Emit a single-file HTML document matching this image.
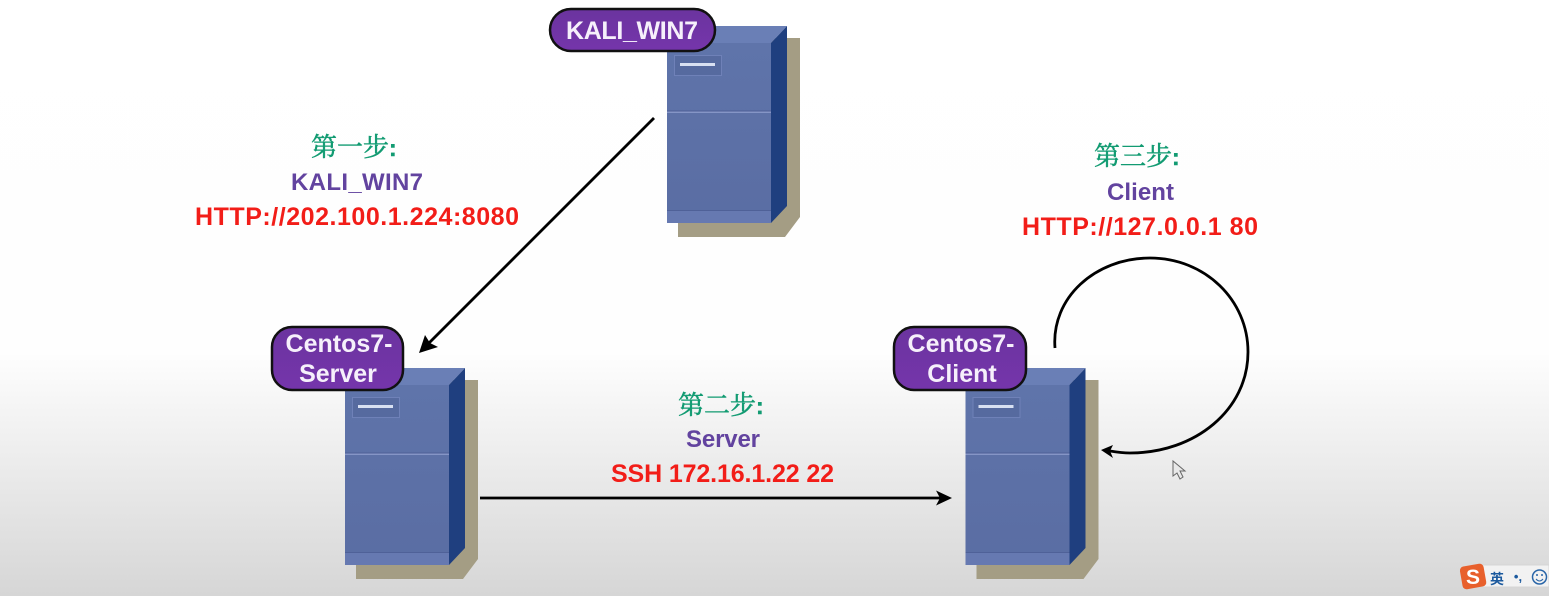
<!DOCTYPE html>
<html><head><meta charset="utf-8"><style>
html,body{margin:0;padding:0;background:#fff}
svg{display:block;filter:blur(.35px)}
text{font-family:"Liberation Sans","Noto Sans CJK SC",sans-serif;font-weight:bold}
.g{font-family:"Liberation Serif","Noto Serif CJK SC",serif;fill:#129b72;font-size:26px;font-weight:normal;stroke:#129b72;stroke-width:.5}
.c{font-weight:bold;font-family:"Liberation Sans",sans-serif;font-size:23px}
.p{fill:#62439f;font-size:24px}
.r{fill:#f21d18;font-size:25px}
.w{fill:#f6f0fb;font-size:25px;text-anchor:middle}
</style></head><body>
<svg width="1549" height="596" viewBox="0 0 1549 596" xmlns="http://www.w3.org/2000/svg">
<defs>
<linearGradient id="bg" x1="0" y1="0" x2="0" y2="1"><stop offset="0" stop-color="#fff"/><stop offset=".59" stop-color="#fefefe"/><stop offset="1" stop-color="#d6d6d6"/></linearGradient>
<linearGradient id="tag" x1="0" y1="0" x2="0" y2="1"><stop offset="0" stop-color="#6b349f"/><stop offset="1" stop-color="#7535ab"/></linearGradient>
<linearGradient id="fr" x1="0" y1="0" x2="0" y2="1"><stop offset="0" stop-color="#5f74aa"/><stop offset="1" stop-color="#5a6da3"/></linearGradient>
<g id="srv">
<path d="M678 38H800V217L785 237H678Z" fill="#a49d84"/>
<path d="M667 43L683 26H787L771 43Z" fill="#6a7fb6"/>
<path d="M771 43L787 26V206L771 223Z" fill="#1f3f7f"/>
<rect x="667" y="43" width="104" height="180" fill="url(#fr)"/>
<rect x="667" y="110.5" width="104" height="1" fill="#4e6097"/>
<rect x="667" y="111.5" width="104" height="1.5" fill="#8595c6"/>
<rect x="667" y="210" width="104" height="1" fill="#4f6198"/>
<rect x="667" y="211" width="104" height="12" fill="#6679b1"/>
<rect x="674.5" y="55.5" width="47" height="20" fill="#566a9f" stroke="#6f81b8"/>
<rect x="680" y="63" width="35" height="3" fill="#d8e0f2"/>
</g>
</defs>
<rect width="1549" height="596" fill="url(#bg)"/>
<use href="#srv"/>
<use href="#srv" x="-322" y="342"/>
<use href="#srv" x="298.5" y="342"/>

<path d="M654 118L428 344" stroke="#000" stroke-width="2.8" fill="none"/>
<path d="M419 353L425 335L430 343L438 347Z" fill="#000"/>
<path d="M480 498H942" stroke="#000" stroke-width="2.8" fill="none"/>
<path d="M952 498L936 490.5L940 498L936 505.5Z" fill="#000"/>
<path d="M1055 348C1051 298 1095 258 1150 258C1205 258 1248 300 1248 352C1248 410 1195 453 1130 453C1122 453 1116 452 1110 451" stroke="#000" stroke-width="2.8" fill="none"/>
<path d="M1101 450L1113 445L1110 451L1113 458Z" fill="#000"/>

<rect x="550" y="9" width="165" height="42" rx="21" fill="url(#tag)" stroke="#111" stroke-width="2.5"/>
<text x="632" y="39" class="w" textLength="132">KALI_WIN7</text>
<rect x="272" y="327" width="131" height="63" rx="20" fill="url(#tag)" stroke="#111" stroke-width="2.5"/>
<text x="339" y="352" class="w">Centos7-</text><text x="338" y="382" class="w">Server</text>
<rect x="894" y="327" width="132" height="63" rx="20" fill="url(#tag)" stroke="#111" stroke-width="2.5"/>
<text x="961" y="352" class="w">Centos7-</text><text x="962" y="382" class="w">Client</text>

<text x="311" y="156" class="g">第一步<tspan class="c">:</tspan></text>
<text x="291" y="190" class="p" textLength="132">KALI_WIN7</text>
<text x="195" y="225" class="r" textLength="324">HTTP://202.100.1.224:8080</text>
<text x="678" y="414" class="g">第二步<tspan class="c">:</tspan></text>
<text x="686" y="447" class="p" textLength="74">Server</text>
<text x="611" y="482" class="r" textLength="223">SSH 172.16.1.22 22</text>
<text x="1094" y="165" class="g">第三步<tspan class="c">:</tspan></text>
<text x="1107" y="200" class="p" textLength="67">Client</text>
<text x="1022" y="235" class="r" textLength="236">HTTP://127.0.0.1 80</text>

<path d="M1173 461V476L1177 473L1180 479L1183 477L1180 471L1185 471Z" fill="#e8e8e8" stroke="#666" stroke-width="1"/>

<rect x="1480" y="565" width="69" height="22" fill="#f2f2f2" stroke="#d5d5d5"/>
<rect x="1461" y="565" width="24" height="23" rx="4" fill="#e8602c" transform="rotate(-10 1473 576)"/>
<text x="1473" y="584" style="font-size:21px;fill:#fff;text-anchor:middle">S</text>
<text x="1497" y="584" style="font-size:14px;fill:#1c5a9e;text-anchor:middle;font-family:'Noto Sans CJK SC',sans-serif">英</text>
<text x="1518" y="581" style="font-size:13px;fill:#1c5a9e;text-anchor:middle">•,</text>
<circle cx="1539.5" cy="577" r="7" fill="none" stroke="#2a66a8" stroke-width="1.5"/>
<circle cx="1537" cy="575" r="1" fill="#2a66a8"/><circle cx="1542" cy="575" r="1" fill="#2a66a8"/>
<path d="M1536 579Q1539.5 583 1543 579" fill="none" stroke="#2a66a8"/>
</svg>
</body></html>
